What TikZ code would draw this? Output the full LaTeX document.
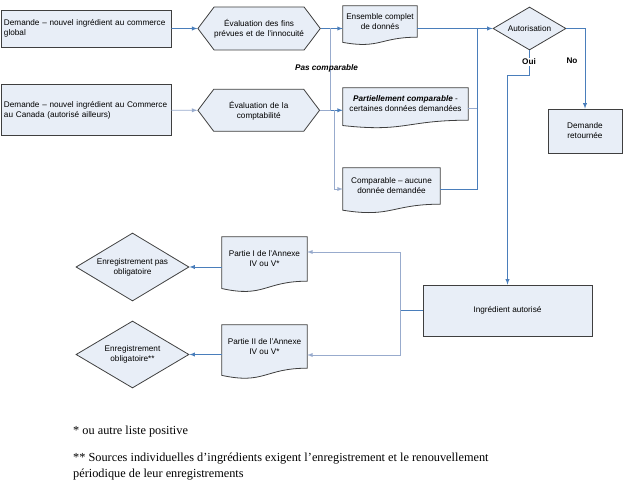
\documentclass[tikz,border=0pt]{standalone}
\usepackage{fontspec}
\setmainfont{Liberation Sans}
\newfontfamily\notefont{Liberation Serif}
\usepackage{tikz}
\usetikzlibrary{shapes.geometric,shapes.symbols}
\usetikzlibrary{arrows}
\usetikzlibrary{positioning,calc,backgrounds}

\definecolor{boxfill}{HTML}{E8EEF7}
\definecolor{boxline}{HTML}{3F3F3F}
\definecolor{linkblue}{HTML}{4A7EBB}
\definecolor{linkpale}{HTML}{98ABCD}

\tikzset{
  box/.style={draw=boxline, fill=boxfill, line width=0.8pt, inner sep=2pt, align=center},
  hexa/.style={signal, signal to=west and east, signal pointer angle=106, draw=boxline,
    fill=boxfill, line width=0.8pt, inner sep=0pt, align=center, text width=90pt, minimum width=119pt},
  doc/.style={inner sep=1pt, align=center},
  docshape/.style={draw=boxline, fill=boxfill, line width=0.8pt},
  choice/.style={diamond, draw=boxline, fill=boxfill, line width=0.8pt, inner sep=0pt, align=center},
  link/.style={draw=linkblue, line width=0.9pt, -latex},
  linkpale/.style={draw=linkpale, line width=0.9pt, -latex},
  noarrow/.style={-},
  note/.style={inner sep=0pt, align=left, font=\notefont\fontsize{12.3}{16}\selectfont}
}

\begin{document}
\begin{tikzpicture}[x=1pt,y=-1pt,font=\fontsize{8.2}{10}\selectfont]
  \useasboundingbox (0,0) rectangle (624,494);

  % demandes et evaluations
  \node[box, align=left, text width=164pt, inner xsep=3pt, minimum height=37pt] (glob) at (86,28.5)
    {Demande – nouvel ingrédient au commerce\\global};
  \node[box, align=left, text width=164pt, inner xsep=3pt, minimum height=51pt] (canada) [below=37pt of glob]
    {Demande – nouvel ingrédient au Commerce\\au Canada (autorisé ailleurs)};
  \node[hexa, minimum height=43pt] (evalfin) [right=26pt of glob] {Évaluation des fins\\prévues et de l'innocuité};
  \node[hexa, minimum height=42pt] (evalcomp) [right=26pt of canada] {Évaluation de la\\comptabilité};

  % documents
  \node[doc, minimum width=74pt, minimum height=31pt] (ens) at (380,21.5) {Ensemble complet\\de donnés};
  \node[doc, minimum width=125pt, minimum height=32pt] (part) at (405.5,104)
    {\textbf{\textit{Partiellement comparable}} -\\certaines données demandées};
  \node[doc, minimum width=97pt, minimum height=36pt] (comp) at (391.5,186) {Comparable – aucune\\donnée demandée};
  \node[doc, minimum width=85pt, minimum height=44pt] (p1) at (264.5,259) {Partie I de l’Annexe\\IV ou V*};
  \node[doc, minimum width=85pt, minimum height=43pt] (p2) at (264.5,346.5) {Partie II de l’Annexe\\IV ou V*};

  % decisions
  \node[choice, shape aspect=1.7, minimum width=73pt, minimum height=43pt] (aut) at (529.5,28.5) {Autorisation};
  \node[box, minimum width=74pt, minimum height=44pt] (retour) at (585,131) {Demande\\retournée};
  \node[box, minimum width=169pt, minimum height=51pt] (ing) at (507.5,310.5) {Ingrédient autorisé};
  \node[choice, shape aspect=1.66, minimum width=113pt, minimum height=68pt] (nonobl) at (132.5,267)
    {Enregistrement pas\\obligatoire};
  \node[choice, shape aspect=1.66, minimum width=113pt, minimum height=67pt] (obl) at (132.5,354.5)
    {Enregistrement\\obligatoire**};

  % notes
  \node[note, anchor=base west] (note1) at (73,434) {* ou autre liste positive};
  \node[note, anchor=base west] (note2) at (73,477)
    {** Sources individuelles d’ingrédients exigent l’enregistrement et le renouvellement\\
     périodique de leur enregistrements};

  \begin{scope}[on background layer]
    \foreach \d in {ens,part,comp,p1,p2}
      \path[docshape] (\d.north west) -- (\d.north east) -- (\d.south east)
        .. controls (\d.south) and ($(\d.south)!-0.38!(\d.north)$)
        .. ($(\d.south west)!-0.165!(\d.north west)$) -- cycle;
  \end{scope}

  \coordinate (splitA) at ($(evalfin.east)+(10,0)$);
  \coordinate (splitB) at ($(evalcomp.east)+(14,0)$);
  \coordinate (merge) at ($(aut.west)+(-15,0)$);
  \coordinate (fork) at ($(ing.west)+(-22,0)$);

  \path
    (glob) edge[link] (evalfin)
    (canada) edge[linkpale] (evalcomp)
    (evalfin.east) edge[link] (evalfin.east -| ens.west)
    (evalcomp.east) edge[link] (evalcomp.east -| part.west)
    (ens.east |- aut.west) edge[link] (aut.west)
    (p1.west |- nonobl.east) edge[link] (nonobl.east)
    (p2.west |- obl.east) edge[link] (obl.east)
    (ing.west) edge[link, noarrow] (fork)
  ;
  \draw[linkpale, noarrow] (evalcomp.east) -| (splitA);
  \draw[linkpale] (splitB) |- ([yshift=-3pt]comp.west);
  \draw[linkpale, noarrow] ([yshift=-4pt]part.east) -| (merge);
  \draw[link, noarrow] ([yshift=-3pt]comp.east) -| (merge);
  \draw[link] (aut.east) -| (retour.north);
  \draw[link] (aut.south) -- ++(0,25) -| (ing.north);
  \draw[linkpale] (fork) |- ([yshift=7pt]p1.east);
  \draw[linkpale] (fork) |- ([yshift=-8.5pt]p2.east);

  % etiquettes
  \node[font=\fontsize{8.2}{10}\selectfont\bfseries\itshape] (pascomp) at (326.5,68) {Pas comparable};
  \node[font=\fontsize{8.2}{10}\selectfont\bfseries, fill=white, inner sep=1pt] (oui) at (529,62) {Oui};
  \node[font=\fontsize{8.2}{10}\selectfont\bfseries] (no) at (572,61) {No};
\end{tikzpicture}
\end{document}
